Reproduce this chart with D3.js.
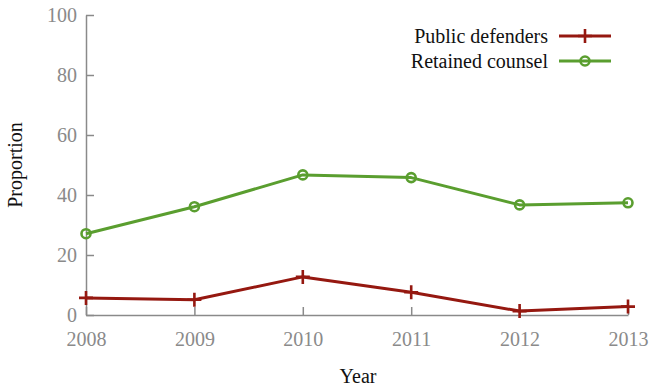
<!DOCTYPE html>
<html>
<head>
<meta charset="utf-8">
<script src="https://cdn.jsdelivr.net/npm/d3@7"></script>
<style>
  html, body { margin: 0; padding: 0; background: #fff; }
  svg { display: block; }
</style>
</head>
<body>
<svg id="chart" width="651" height="387"></svg>
<script>
// Share of cases by type of counsel, per year
const years = [2008, 2009, 2010, 2011, 2012, 2013];
const publicDefenders = [5.7, 5.1, 12.7, 7.6, 1.3, 2.8];
const retainedCounsel = [27.1, 36.1, 46.7, 45.8, 36.7, 37.4];
const yTicks = [0, 20, 40, 60, 80, 100];
const seriesNames = ["Public defenders", "Retained counsel"];

const series = [
  { name: seriesNames[0], values: publicDefenders, color: "#951810", marker: "plus" },
  { name: seriesNames[1], values: retainedCounsel, color: "#5a9e2f", marker: "circle" }
];

const svg = d3.select("#chart");
const plot = { left: 86, right: 628, top: 15, bottom: 315 };
const axisColor = "#8a8a8a";
const font = "'Liberation Serif', 'Times New Roman', serif";

const x = d3.scaleLinear().domain([2008, 2013]).range([plot.left, plot.right]);
const y = d3.scaleLinear().domain([0, 100]).range([plot.bottom, plot.top]);

// Y axis: ticks point into the plot
const yAxis = svg.append("g")
  .attr("transform", `translate(${plot.left},0)`)
  .call(d3.axisRight(y).tickValues(yTicks).tickSize(8).tickSizeOuter(0).tickFormat(d3.format("d")));
yAxis.select(".domain").attr("stroke", axisColor).attr("stroke-width", 1.5);
yAxis.selectAll(".tick line").attr("stroke", axisColor).attr("stroke-width", 1.5);
yAxis.selectAll(".tick text")
  .attr("x", -9).attr("text-anchor", "end").attr("dy", "0.33em")
  .attr("fill", axisColor).style("font-family", font).style("font-size", "20px");

// X axis: ticks point up into the plot
const xAxis = svg.append("g")
  .attr("transform", `translate(0,${plot.bottom})`)
  .call(d3.axisTop(x).tickValues(years).tickSize(8).tickSizeOuter(0).tickFormat(d3.format("d")));
xAxis.select(".domain").attr("stroke", axisColor).attr("stroke-width", 1.5);
xAxis.selectAll(".tick line").attr("stroke", axisColor).attr("stroke-width", 1.5);
xAxis.selectAll(".tick text")
  .attr("y", 31).attr("dy", "0").attr("text-anchor", "middle")
  .attr("fill", axisColor).style("font-family", font).style("font-size", "20px");

// Axis titles
svg.append("text")
  .attr("x", 358).attr("y", 383)
  .attr("text-anchor", "middle")
  .style("font-family", font).style("font-size", "20px").attr("fill", "#111")
  .text("Year");
svg.append("text")
  .attr("transform", "translate(22,165) rotate(-90)")
  .attr("text-anchor", "middle")
  .style("font-family", font).style("font-size", "20px").attr("fill", "#111")
  .text("Proportion");

function drawMarker(g, kind, cx, cy, color) {
  if (kind === "plus") {
    g.append("path")
      .attr("d", `M${cx - 7},${cy}H${cx + 7}M${cx},${cy - 7}V${cy + 7}`)
      .attr("stroke", color).attr("stroke-width", 2.6).attr("fill", "none");
  } else {
    g.append("circle")
      .attr("cx", cx).attr("cy", cy).attr("r", 4.5)
      .attr("stroke", color).attr("stroke-width", 2.6).attr("fill", "none");
  }
}

const line = d3.line().x((d, i) => x(years[i])).y(d => y(d));

series.forEach(s => {
  const g = svg.append("g");
  g.append("path")
    .attr("d", line(s.values))
    .attr("fill", "none").attr("stroke", s.color)
    .attr("stroke-width", 3).attr("stroke-linejoin", "round");
  s.values.forEach((v, i) => drawMarker(g, s.marker, x(years[i]), y(v), s.color));
});

// Legend
const legend = svg.append("g");
series.forEach((s, i) => {
  const ly = 36 + i * 25;
  legend.append("text")
    .attr("x", 548).attr("y", ly).attr("dy", "0.33em")
    .attr("text-anchor", "end")
    .style("font-family", font).style("font-size", "20px").attr("fill", "#111")
    .text(s.name);
  legend.append("line")
    .attr("x1", 559).attr("x2", 611).attr("y1", ly).attr("y2", ly)
    .attr("stroke", s.color).attr("stroke-width", 3);
  drawMarker(legend, s.marker, 585, ly, s.color);
});
</script>
</body>
</html>
